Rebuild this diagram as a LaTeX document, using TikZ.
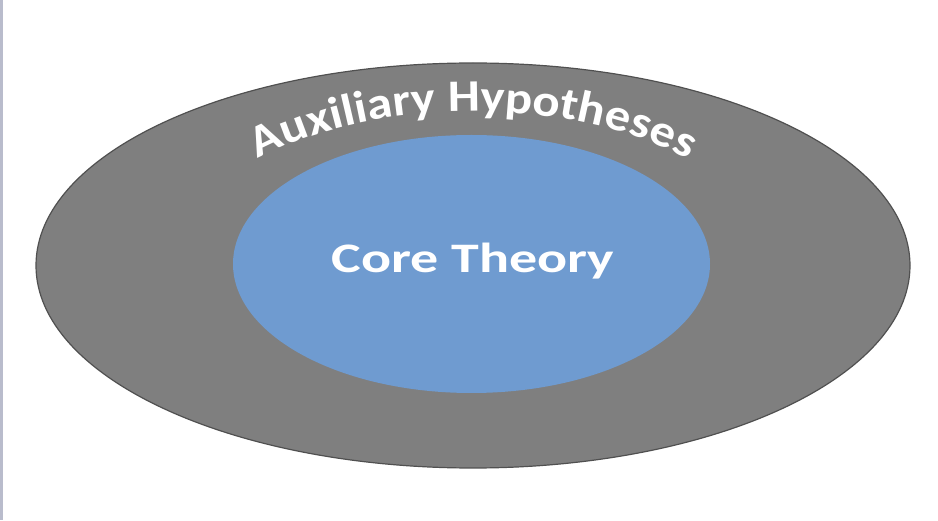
\documentclass[tikz,border=0pt]{standalone}
\usepackage{fontspec}
\setmainfont{Carlito}[FakeStretch=1.333]
\newfontfamily\arcfont{Carlito}[FakeStretch=1.13]
\usetikzlibrary{shapes.geometric,decorations.text}
\definecolor{outergray}{RGB}{127,127,127}
\definecolor{edgegray}{RGB}{80,80,80}
\definecolor{coreblue}{RGB}{111,155,208}
\definecolor{leftbar}{RGB}{185,188,204}
\tikzset{
  ring/.style={ellipse, inner sep=0pt, draw=edgegray, fill=outergray, line width=1.2pt},
  corestyle/.style={ellipse, inner sep=0pt, fill=coreblue},
  labeltext/.style={text=white, font=\bfseries\fontsize{42}{50}\selectfont, inner sep=0pt}
}
\begin{document}
\begin{tikzpicture}[x=1pt,y=1pt]
\useasboundingbox (0,0) rectangle (938,520);
\fill[white] (0,0) rectangle (938,520);
\fill[leftbar] (0,0) rectangle (3,520);
\node[ring, minimum width=874pt, minimum height=405pt] (aux) at (473,254.5) {};
\node[corestyle, minimum width=477pt, minimum height=258pt] (core) at (471.5,256) {};
\node[labeltext, anchor=base] (label) at (473,247) {Core Theory};
\path[decorate, decoration={text along path, text align=center,
  text={|\arcfont\bfseries\fontsize{45}{52}\selectfont\color{white}|Auxiliary Hypotheses}}]
  (aux.center) ++(142:297 and 154) arc[start angle=142, end angle=38, x radius=297, y radius=154];
\end{tikzpicture}
\end{document}
